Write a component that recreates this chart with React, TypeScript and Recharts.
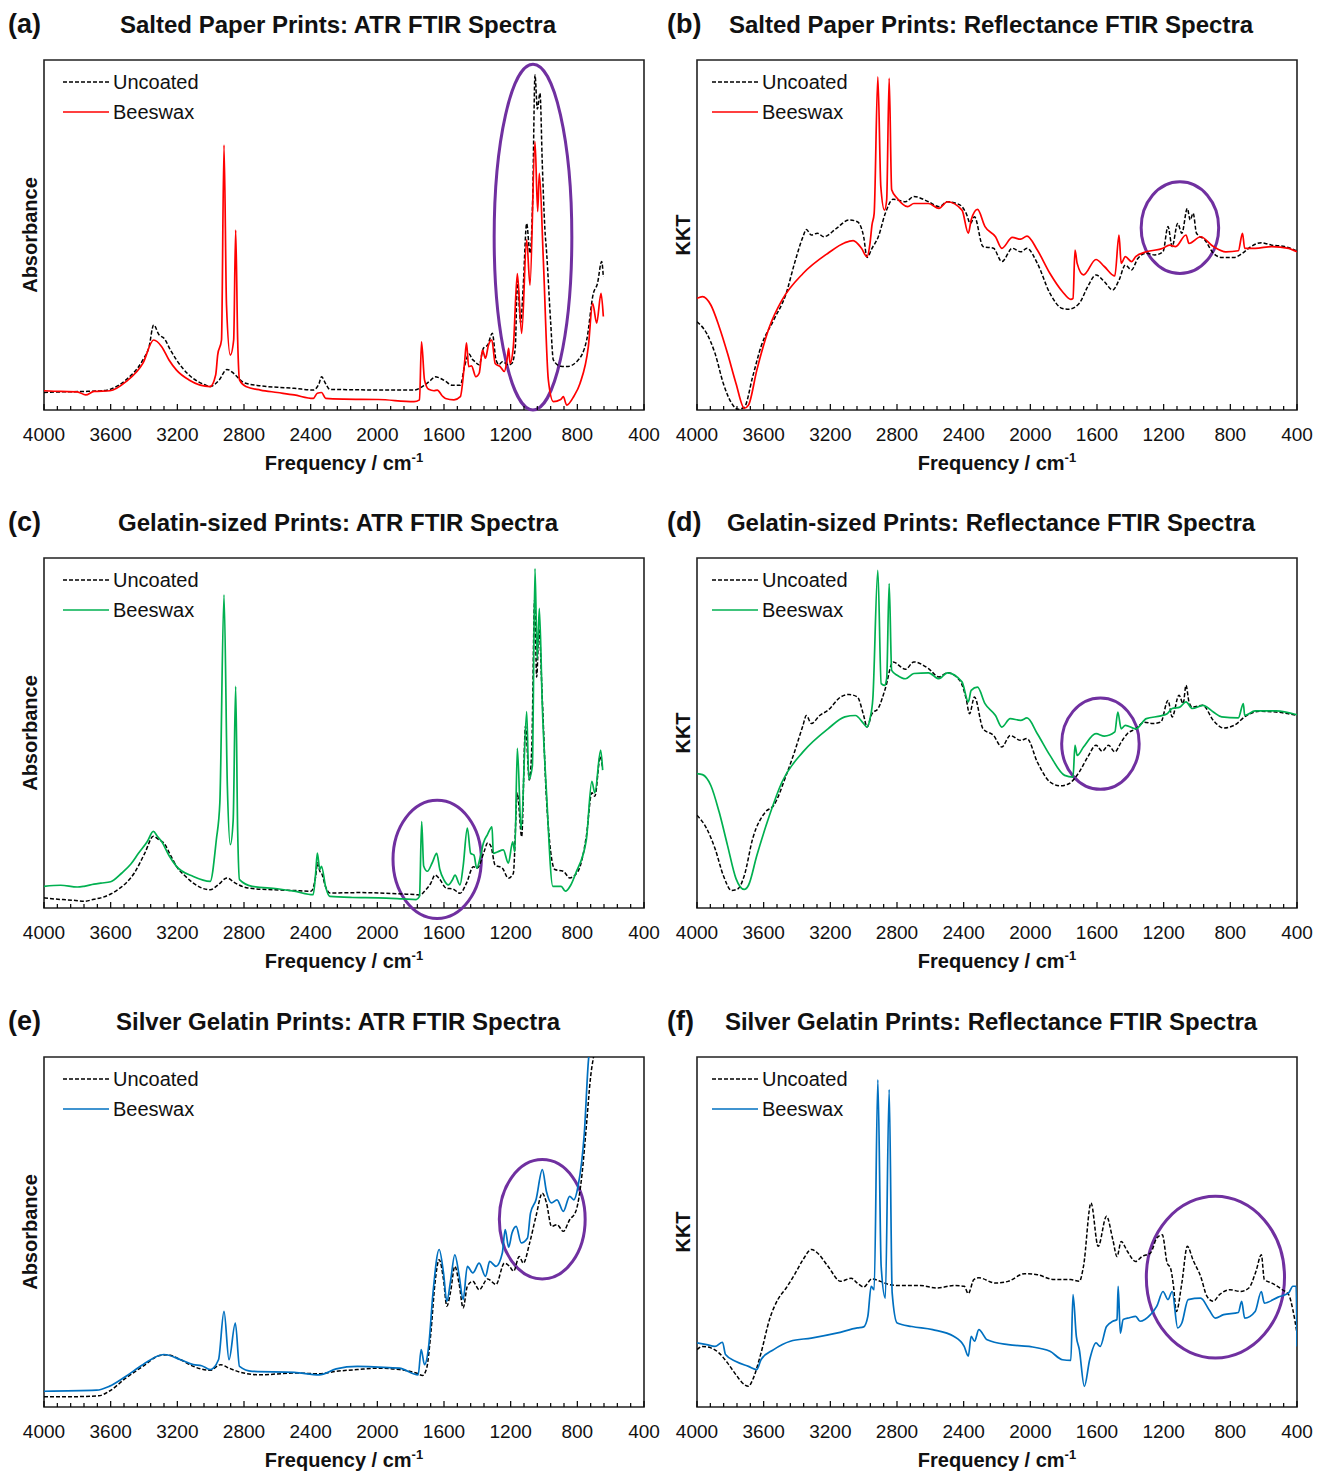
import { LineChart, Line, XAxis, YAxis, ReferenceArea, Legend, Label } from "recharts";

type Pt = [number, number];

const FONT = "Arial, 'Liberation Sans', Helvetica, sans-serif";
const RED = "#FF0000";
const GREEN = "#00B050";
const BLUE = "#0070C0";
const PURPLE = "#7030A0";

const MAJOR_TICKS = [4000, 3600, 3200, 2800, 2400, 2000, 1600, 1200, 800, 400];
const X_TICKS: number[] = [];
for (let v = 4000; v >= 400; v -= 80) X_TICKS.push(v);

// (a) salted paper, ATR
const saltedAtrUncoated: Pt[] = [
  [4000, 5], [3880, 5.2], [3760, 5.3], [3650, 5.5], [3604, 5.9], [3508, 8.6], [3407, 14.3], [3370, 18],
  [3342, 24.3], [3310, 21.5], [3280, 20.5], [3240, 17], [3205, 14.3], [3130, 10], [3029, 7.1], [3003, 6.7],
  [2950, 8.5], [2903, 11.6], [2870, 10.8], [2852, 10], [2800, 7.8], [2701, 6.9], [2600, 6.5], [2499, 6.2],
  [2385, 5.7], [2350, 7.5], [2335, 9.5], [2310, 7.5], [2285, 5.9], [2150, 5.8], [1994, 5.7], [1780, 5.7],
  [1717, 7.1], [1680, 8.5], [1654, 9.5], [1620, 9], [1591, 8.2], [1553, 7.1], [1502, 7.1], [1477, 12.4],
  [1450, 16], [1430, 14.5], [1414, 13.8], [1389, 12.9], [1364, 17.6], [1338, 18.6], [1310, 21.9], [1288, 14.3],
  [1270, 13], [1250, 13.8], [1212, 12.9], [1193, 13.3], [1172, 18], [1160, 37], [1140, 25], [1125, 35],
  [1104, 53.3], [1084, 44.8], [1068, 60], [1054, 95.7], [1040, 86], [1024, 90.5], [1010, 70], [995, 52],
  [984, 44.8], [960, 25], [944, 14.3], [900, 12.5], [864, 12.4], [800, 14], [744, 20], [704, 33.3],
  [680, 36], [654, 42.4], [644, 38],
];
const saltedAtrBeeswax: Pt[] = [
  [4000, 5.5], [3900, 5.3], [3800, 5.2], [3750, 4.3], [3700, 5.3], [3604, 5.5], [3508, 8.1], [3407, 13.3],
  [3342, 20], [3294, 18.1], [3250, 14.3], [3205, 11.4], [3130, 8.6], [3003, 6.7], [2970, 10], [2958, 15.7],
  [2935, 20], [2920, 75.7], [2905, 30], [2882, 15.7], [2862, 20], [2850, 51.4], [2838, 20], [2827, 8.6],
  [2789, 6.7], [2701, 5.7], [2600, 5], [2499, 4.3], [2385, 3.3], [2360, 4.8], [2335, 5], [2310, 3.3],
  [2200, 3.1], [1994, 3], [1780, 2.4], [1747, 2.9], [1735, 19.5], [1717, 8.6], [1692, 5.9], [1660, 5.5],
  [1640, 5.7], [1610, 4], [1591, 3.3], [1540, 2.9], [1502, 3.8], [1477, 13.3], [1465, 19.2], [1452, 12.4],
  [1435, 12.6], [1409, 9.5], [1389, 10.5], [1369, 17.1], [1351, 14.8], [1333, 18.6], [1313, 20], [1293, 13.3],
  [1263, 12.4], [1238, 11], [1220, 15], [1212, 17.6], [1204, 13.3], [1184, 18.1], [1160, 39], [1134, 21.9],
  [1104, 48.6], [1084, 35.7], [1054, 76.7], [1038, 56.7], [1028, 67.6], [1004, 42.9], [974, 8.6], [944, 2.4],
  [900, 3], [884, 3.8], [864, 1.4], [820, 4], [784, 7.6], [734, 18.1], [708, 30.5], [684, 24.8],
  [658, 33.3], [644, 26.7],
];

// (b) salted paper, reflectance
const saltedReflUncoated: Pt[] = [
  [4000, 25.2], [3942, 21.9], [3892, 16.2], [3842, 7.6], [3792, 1.9], [3754, 0.2], [3716, 0.8], [3666, 9.5],
  [3616, 18.1], [3540, 25.7], [3465, 33.3], [3415, 41.9], [3364, 49.5], [3344, 51.6], [3314, 50], [3277, 50.5],
  [3239, 49.5], [3163, 51.9], [3088, 54.3], [3038, 53.8], [3000, 49.5], [2980, 43.6], [2950, 46.2], [2912, 49.5],
  [2870, 56.2], [2824, 60.2], [2749, 59.5], [2699, 61], [2611, 59.5], [2548, 58.1], [2498, 59.5], [2423, 58.6],
  [2385, 56.2], [2360, 53.3], [2335, 55.2], [2284, 46.7], [2221, 46.2], [2171, 42.4], [2108, 46.2], [2058, 45.2],
  [2020, 46.2], [1958, 41.9], [1882, 33.3], [1807, 29], [1769, 28.8], [1706, 30.5], [1656, 35.2], [1606, 38.6],
  [1556, 36.7], [1506, 34.3], [1468, 37.1], [1430, 41.4], [1393, 40], [1355, 43.3], [1304, 44.8], [1254, 44.3],
  [1204, 45.2], [1174, 52.4], [1149, 46.7], [1116, 53.3], [1091, 50.5], [1058, 57.6], [1041, 54.3], [1023, 56.2],
  [1003, 50.5], [953, 48.6], [902, 44.8], [852, 43.6], [777, 43.6], [727, 44.8], [676, 46.7], [614, 47.8],
  [551, 47.1], [475, 46.7], [400, 45.5],
];
const saltedReflBeeswax: Pt[] = [
  [4000, 31.9], [3967, 32.4], [3917, 30], [3867, 23.8], [3817, 16.2], [3766, 7.6], [3716, 0.5], [3691, 1.4],
  [3641, 11.4], [3565, 23.8], [3490, 31.4], [3364, 39], [3214, 44.8], [3113, 47.8], [3063, 48.4], [3013, 46.2],
  [2980, 43.8], [2962, 47.6], [2950, 52.9], [2937, 56.2], [2915, 95.2], [2897, 63.8], [2875, 57.1], [2862, 60],
  [2847, 94.8], [2832, 62.9], [2799, 60.5], [2736, 58.1], [2699, 59], [2611, 59], [2548, 57.6], [2498, 59.5],
  [2410, 57.1], [2372, 50.5], [2355, 54.3], [2317, 57.3], [2272, 52.4], [2209, 49.5], [2171, 46.2], [2108, 49.3],
  [2058, 48.8], [2020, 49.7], [1958, 45.7], [1882, 39], [1807, 33.8], [1757, 31.6], [1744, 31.9], [1732, 45.7],
  [1719, 41.9], [1681, 38.6], [1606, 43], [1556, 41], [1493, 38.3], [1468, 50], [1455, 41.9], [1430, 43.8],
  [1393, 42.4], [1368, 43.8], [1304, 45.2], [1204, 46.2], [1166, 47.1], [1128, 46.7], [1066, 50], [1048, 47.6],
  [978, 49.5], [902, 46.7], [827, 45.2], [752, 45.5], [727, 50.5], [714, 46.2], [651, 46.2], [551, 46.7],
  [450, 46.2], [400, 45.2],
];

// (c) gelatin-sized, ATR
const gelatinAtrUncoated: Pt[] = [
  [4000, 2.9], [3940, 2.6], [3886, 2.4], [3820, 2.2], [3760, 1.9], [3700, 2.5], [3659, 2.9], [3600, 4],
  [3559, 5.2], [3500, 7.5], [3458, 10], [3395, 15.7], [3344, 20.5], [3310, 19.5], [3281, 18.6], [3240, 15],
  [3205, 11.9], [3150, 9], [3104, 7.1], [3003, 5.2], [2953, 6.7], [2903, 8.6], [2852, 7.1], [2776, 5.7],
  [2625, 5.2], [2500, 5], [2398, 4.8], [2370, 9], [2360, 12.9], [2345, 10.5], [2335, 10], [2310, 6],
  [2285, 4.3], [2100, 4.4], [1994, 4.3], [1850, 4], [1767, 3.8], [1744, 3.7], [1717, 4.8], [1680, 7],
  [1654, 9.4], [1630, 8.5], [1584, 5.6], [1550, 5.5], [1504, 4.2], [1465, 7.1], [1424, 11.8], [1400, 11.4],
  [1360, 16], [1338, 18.6], [1318, 17.6], [1294, 12.3], [1250, 11.4], [1214, 8.5], [1184, 9.9], [1160, 32.8],
  [1134, 20.4], [1111, 51.9], [1088, 36.6], [1073, 46.2], [1056, 88.1], [1044, 66], [1030, 79.5], [1010, 59.5],
  [985, 31], [935, 11], [884, 10.5], [846, 8.6], [796, 10.5], [746, 20.5], [713, 32.9], [695, 31.9],
  [662, 43.3], [650, 40.5],
];
const gelatinAtrBeeswax: Pt[] = [
  [4000, 6.2], [3900, 6.5], [3800, 6], [3760, 6.2], [3700, 6.8], [3659, 7.1], [3600, 7.5], [3533, 10],
  [3480, 12.5], [3432, 15.7], [3380, 19], [3344, 21.9], [3320, 20.5], [3294, 19], [3250, 15], [3205, 11.9],
  [3104, 9], [3003, 7.6], [2966, 19.5], [2945, 30], [2920, 89.5], [2900, 35], [2882, 18.1], [2865, 25],
  [2850, 63.3], [2838, 22], [2827, 8.1], [2751, 6.2], [2600, 5.5], [2499, 4.8], [2385, 3.8], [2370, 10],
  [2360, 15.7], [2345, 11], [2335, 11.9], [2310, 6], [2285, 3.3], [2150, 3], [1994, 2.9], [1850, 2.6],
  [1767, 2.4], [1747, 3.3], [1734, 24.7], [1722, 12], [1700, 10.5], [1670, 13], [1644, 15.6], [1625, 11],
  [1600, 8], [1574, 6.6], [1550, 8], [1534, 9.4], [1504, 6.6], [1485, 12], [1460, 22.8], [1440, 15.6],
  [1420, 15.1], [1404, 11.4], [1380, 15], [1364, 18.5], [1340, 20.9], [1312, 23.2], [1304, 15.6], [1280, 16],
  [1244, 16.6], [1214, 12.8], [1188, 18.9], [1175, 16], [1160, 45.6], [1137, 22.4], [1104, 56.1], [1091, 36.7],
  [1070, 40.5], [1054, 97], [1041, 71], [1028, 85.6], [1010, 57.6], [985, 32.9], [947, 6.2], [897, 6.2],
  [872, 4.8], [840, 6.5], [809, 10], [746, 19.5], [713, 36.2], [695, 32.9], [660, 45.1], [648, 39.4],
];

// (d) gelatin-sized, reflectance
const gelatinReflUncoated: Pt[] = [
  [4000, 26.5], [3942, 22.7], [3892, 17], [3842, 9.3], [3792, 5], [3754, 5.5], [3716, 9.3], [3666, 19.8],
  [3590, 27.4], [3540, 29.3], [3465, 37.9], [3415, 44.6], [3364, 52.2], [3344, 55], [3314, 52.7], [3264, 55],
  [3214, 56.5], [3138, 60.3], [3088, 61], [3038, 60.3], [3000, 55], [2980, 51.7], [2950, 55.5], [2912, 57.1],
  [2870, 62.7], [2824, 70.3], [2749, 68.2], [2699, 70.3], [2611, 68.4], [2548, 66], [2498, 67.2], [2423, 65],
  [2385, 59.8], [2365, 55.5], [2335, 60.3], [2284, 51.2], [2221, 49.3], [2171, 46], [2121, 49.3], [2058, 47.9],
  [2020, 48.4], [1958, 41.7], [1882, 36], [1820, 34.9], [1769, 35.5], [1706, 38.9], [1656, 43.1], [1606, 46.5],
  [1569, 44.8], [1531, 46.5], [1493, 44.6], [1455, 47.4], [1418, 49.8], [1368, 51.2], [1317, 53.1], [1267, 52.7],
  [1217, 53.1], [1174, 59.3], [1149, 54.6], [1108, 60.8], [1083, 58.4], [1066, 63.6], [1048, 58.9], [1028, 57.4],
  [965, 57.9], [902, 53.6], [840, 51.4], [777, 52.2], [702, 55], [626, 56.2], [526, 56], [400, 55],
];
const gelatinReflBeeswax: Pt[] = [
  [4000, 38.4], [3967, 38.1], [3917, 35], [3867, 27.4], [3817, 17.9], [3766, 8.4], [3716, 5.3], [3691, 6.5],
  [3641, 15], [3565, 26.5], [3490, 36], [3364, 44.6], [3214, 51.2], [3113, 54.6], [3050, 55], [3000, 52.7],
  [2980, 51.7], [2962, 54.1], [2945, 59.8], [2915, 96.5], [2895, 64.1], [2875, 63.6], [2862, 65.5], [2847, 92.7],
  [2832, 67.9], [2799, 66.5], [2749, 65.5], [2699, 67], [2611, 67.2], [2548, 65.5], [2498, 67.2], [2410, 64.6],
  [2372, 58.9], [2355, 62.2], [2317, 63.1], [2272, 58.4], [2209, 55], [2171, 51.7], [2121, 54.1], [2058, 53.6],
  [2020, 54.3], [1958, 49.8], [1882, 43.6], [1794, 37.9], [1744, 37.4], [1732, 46.5], [1719, 43.6], [1681, 46],
  [1606, 49.8], [1556, 49.1], [1493, 50.3], [1475, 56], [1455, 51.2], [1430, 52.2], [1368, 51.2], [1304, 54.1],
  [1217, 54.9], [1179, 55.5], [1149, 57], [1103, 57.4], [1066, 58.9], [1028, 57], [965, 57.9], [902, 56],
  [852, 54.6], [752, 54.3], [722, 58.4], [714, 55], [651, 56.3], [526, 56.3], [400, 55.2],
];

// (e) silver gelatin, ATR
const silverAtrUncoated: Pt[] = [
  [4000, 2.9], [3886, 2.9], [3672, 3.2], [3609, 4.5], [3508, 8.3], [3407, 11.6], [3306, 14.7], [3256, 14.9],
  [3180, 13.5], [3104, 11.6], [3003, 10.5], [2940, 12.1], [2890, 11.1], [2802, 9.7], [2701, 9.2], [2499, 9.7],
  [2348, 9.5], [2247, 10.2], [2120, 10.7], [1994, 11.1], [1868, 10.7], [1767, 9.7], [1729, 9], [1704, 11.1],
  [1679, 21.1], [1654, 35.4], [1629, 42.1], [1603, 36.4], [1583, 28.8], [1561, 32.8], [1535, 40.2], [1510, 35.4],
  [1485, 28.3], [1460, 34.5], [1427, 35.9], [1389, 33.5], [1338, 36.6], [1288, 35], [1238, 41.1], [1207, 40.2],
  [1182, 38.8], [1149, 43], [1124, 41.1], [1086, 46.9], [1048, 54.5], [1010, 61.1], [985, 58.3], [955, 51.6],
  [922, 52.1], [884, 50.2], [846, 53.5], [809, 55.9], [771, 66.9], [746, 80.2], [720, 94.5], [703, 100],
  [682, 105],
];
const silverAtrBeeswax: Pt[] = [
  [4000, 4.5], [3685, 4.8], [3609, 5.9], [3508, 8.8], [3407, 12.1], [3281, 15], [3180, 13.5], [3104, 12.1],
  [3054, 11.8], [3003, 10.7], [2953, 13.5], [2920, 27.3], [2890, 13.5], [2852, 24], [2827, 11.6], [2751, 10.2],
  [2499, 9.9], [2348, 9.2], [2247, 10.9], [2120, 11.6], [1994, 11.4], [1868, 11.1], [1755, 9.2], [1737, 16.4],
  [1717, 12.1], [1692, 17.3], [1666, 32.6], [1629, 45], [1603, 38.3], [1583, 30.2], [1561, 35.9], [1535, 43.5],
  [1510, 37.8], [1485, 30.7], [1460, 40.2], [1427, 38.3], [1389, 41.1], [1351, 37.3], [1326, 41.6], [1288, 40.2],
  [1250, 44], [1233, 50.7], [1212, 45.7], [1192, 49.7], [1167, 51.6], [1137, 46.9], [1099, 48.3], [1081, 55.4],
  [1048, 59.2], [1010, 67.8], [985, 61.5], [955, 58.3], [922, 59.2], [884, 55.9], [846, 60.2], [821, 59.2],
  [796, 63], [758, 78.3], [733, 99.2], [720, 104],
];

// (f) silver gelatin, reflectance
const silverReflUncoated: Pt[] = [
  [4000, 16.4], [3967, 17.3], [3917, 16.9], [3867, 15.4], [3817, 12.6], [3766, 9.2], [3716, 6.4], [3691, 5.9],
  [3666, 7.8], [3616, 15.4], [3565, 25], [3515, 30.7], [3465, 34], [3415, 37.8], [3364, 42.1], [3314, 45],
  [3277, 44], [3214, 40.2], [3138, 35.9], [3075, 36.8], [3038, 35.4], [3000, 34.3], [2950, 36.6], [2900, 35.9],
  [2849, 35], [2787, 34.7], [2661, 34.7], [2560, 34], [2460, 34.7], [2397, 34.5], [2372, 32.4], [2339, 36.4],
  [2309, 36.9], [2209, 35.4], [2133, 35.9], [2033, 38.1], [1958, 37.8], [1857, 36.4], [1757, 36.4], [1706, 35.9],
  [1681, 40.2], [1636, 58.3], [1593, 45.9], [1543, 54.5], [1505, 47.8], [1480, 43], [1455, 47.3], [1418, 44.5],
  [1368, 41.6], [1330, 43], [1279, 44], [1241, 48.3], [1208, 49.2], [1179, 41.1], [1159, 39.7], [1141, 34.5],
  [1124, 27.3], [1091, 35.4], [1058, 45.9], [1023, 41.9], [978, 37.3], [940, 31.6], [902, 30.2], [865, 32.1],
  [802, 33.5], [739, 33], [689, 34], [646, 38.8], [614, 43.5], [596, 36.4], [551, 35.4], [488, 33.5],
  [450, 32.1], [425, 27.8], [400, 21.1],
];
const silverReflBeeswax: Pt[] = [
  [4000, 18.3], [3942, 17.8], [3892, 17.3], [3847, 18.5], [3829, 15], [3766, 13], [3691, 11.6], [3641, 10.7],
  [3616, 13.5], [3540, 16.4], [3440, 18.8], [3314, 19.7], [3163, 21.1], [3038, 22.6], [3000, 22.9], [2975, 25.9],
  [2955, 34.5], [2937, 33.5], [2915, 93.5], [2895, 40.2], [2870, 31.1], [2847, 90.7], [2829, 32.6], [2799, 24],
  [2711, 23], [2586, 22.1], [2460, 20.2], [2397, 17.3], [2372, 14.5], [2355, 20.2], [2335, 18.8], [2309, 22.1],
  [2259, 19.2], [2133, 17.8], [2008, 17.3], [1882, 15.9], [1807, 13.5], [1757, 13.3], [1744, 32.1], [1724, 20.2],
  [1706, 16.4], [1676, 5.9], [1644, 13.5], [1606, 18.3], [1581, 17.3], [1543, 23], [1505, 24.5], [1480, 25],
  [1473, 34.5], [1460, 21.1], [1443, 25], [1405, 25.5], [1368, 25.9], [1342, 24.5], [1279, 26.4], [1241, 28.8],
  [1204, 33], [1174, 30.7], [1149, 33], [1116, 22.6], [1091, 24], [1053, 30.7], [978, 31.1], [928, 27.8],
  [890, 25.4], [840, 26.4], [752, 27], [732, 30.2], [714, 25.4], [651, 27.3], [614, 33], [596, 29.7],
  [513, 31.4], [450, 32.6], [425, 34.5], [405, 34.5], [400, 17.3],
];

// highlighted regions: [x1, x2, y1, y2]
const saltedAtrCircle = [833, 1299, 0, 98.8];
const saltedReflCircle = [870, 1335, 39, 65.2];
const gelatinAtrCircle = [1376, 1906, -3, 30.8];
const gelatinReflCircle = [1347, 1812, 33.9, 60];
const silverAtrCircle = [753, 1268, 36.6, 70.7];
const silverReflCircle = [475, 1304, 14, 60.2];

const PANELS = [
  { letter: "(a)", title: "Salted Paper Prints: ATR FTIR Spectra", yLabel: "Absorbance", color: RED, uncoated: saltedAtrUncoated, beeswax: saltedAtrBeeswax, circle: saltedAtrCircle, col: 0, row: 0 },
  { letter: "(b)", title: "Salted Paper Prints: Reflectance FTIR Spectra", yLabel: "KKT", color: RED, uncoated: saltedReflUncoated, beeswax: saltedReflBeeswax, circle: saltedReflCircle, col: 1, row: 0 },
  { letter: "(c)", title: "Gelatin-sized Prints: ATR FTIR Spectra", yLabel: "Absorbance", color: GREEN, uncoated: gelatinAtrUncoated, beeswax: gelatinAtrBeeswax, circle: gelatinAtrCircle, col: 0, row: 1 },
  { letter: "(d)", title: "Gelatin-sized Prints: Reflectance FTIR Spectra", yLabel: "KKT", color: GREEN, uncoated: gelatinReflUncoated, beeswax: gelatinReflBeeswax, circle: gelatinReflCircle, col: 1, row: 1 },
  { letter: "(e)", title: "Silver Gelatin Prints: ATR FTIR Spectra", yLabel: "Absorbance", color: BLUE, uncoated: silverAtrUncoated, beeswax: silverAtrBeeswax, circle: silverAtrCircle, col: 0, row: 2 },
  { letter: "(f)", title: "Silver Gelatin Prints: Reflectance FTIR Spectra", yLabel: "KKT", color: BLUE, uncoated: silverReflUncoated, beeswax: silverReflBeeswax, circle: silverReflCircle, col: 1, row: 2 },
];

const toXY = (pts: Pt[]) => pts.map(([x, y]) => ({ x, y }));

const COL_LEFT = [0, 653];
const ROW_TOP = [0, 498, 997];
const TITLE_X = [338, 991];
const LETTER_X = [8, 667];

function WaveTick(props: any) {
  const { x, y, payload } = props;
  const major = MAJOR_TICKS.includes(payload.value);
  return (
    <g>
      <line x1={x} x2={x} y1={y} y2={y - (major ? 6 : 4)} stroke="#000" strokeWidth={1.2} />
      {major && (
        <text x={x} y={y + 31} textAnchor="middle" fontSize={19} fontFamily={FONT} fill="#111">
          {payload.value}
        </text>
      )}
    </g>
  );
}

function FreqTitle(props: any) {
  const vb = props.viewBox;
  return (
    <text x={vb.x + vb.width / 2} y={vb.y + 60} textAnchor="middle" fontSize={20} fontWeight="bold" fontFamily={FONT} fill="#111">
      Frequency / cm<tspan dy={-8} fontSize={13}>-1</tspan>
    </text>
  );
}

function YTitle({ viewBox, text }: any) {
  const cx = viewBox.x - 14;
  const cy = viewBox.y + viewBox.height / 2;
  return (
    <text x={cx} y={cy} transform={`rotate(-90 ${cx} ${cy})`} textAnchor="middle" dominantBaseline="central"
      fontSize={20} fontWeight="bold" fontFamily={FONT} fill="#111">
      {text}
    </text>
  );
}

function Ellipse(props: any) {
  const { x, y, width, height } = props;
  return (
    <ellipse cx={x + width / 2} cy={y + height / 2} rx={Math.abs(width) / 2} ry={Math.abs(height) / 2}
      fill="none" stroke={PURPLE} strokeWidth={3} />
  );
}

function LegendBox({ color }: { color: string }) {
  const row = (dash: string | undefined, c: string, name: string) => (
    <div style={{ display: "flex", alignItems: "center", height: 30 }}>
      <svg width={46} height={30} style={{ display: "block" }}>
        <line x1={0} x2={46} y1={15} y2={15} stroke={c} strokeWidth={1.6} strokeDasharray={dash} />
      </svg>
      <span style={{ marginLeft: 4, fontSize: 20, fontFamily: FONT, color: "#111", lineHeight: "30px" }}>{name}</span>
    </div>
  );
  return (
    <div>
      {row("4 2", "#000", "Uncoated")}
      {row(undefined, color, "Beeswax")}
    </div>
  );
}

function Panel({ p }: { p: (typeof PANELS)[number] }) {
  const [cx1, cx2, cy1, cy2] = p.circle;
  return (
    <div style={{ position: "absolute", left: COL_LEFT[p.col], top: ROW_TOP[p.row], width: 660, height: 480 }}>
      <LineChart width={660} height={480} margin={{ top: 60, right: 16, bottom: 40, left: 44 }}>
        <XAxis type="number" dataKey="x" domain={[400, 4000]} reversed ticks={X_TICKS} interval={0}
          tickLine={false} axisLine={false} tickSize={0} tickMargin={0} height={30}
          tick={(t: any) => <WaveTick {...t} />} allowDataOverflow>
          <Label content={(lp: any) => <FreqTitle {...lp} />} />
        </XAxis>
        <YAxis type="number" domain={[0, 100]} hide allowDataOverflow />
        <ReferenceArea x1={400} x2={4000} y1={0} y2={100} fill="none" fillOpacity={0} stroke="#222" strokeWidth={1.6}
          ifOverflow="visible">
          <Label content={(lp: any) => <YTitle {...lp} text={p.yLabel} />} />
        </ReferenceArea>
        <Line data={toXY(p.uncoated)} dataKey="y" name="Uncoated" type="monotone" stroke="#000" strokeWidth={1.5}
          strokeDasharray="4 2" dot={false} activeDot={false} isAnimationActive={false} />
        <Line data={toXY(p.beeswax)} dataKey="y" name="Beeswax" type="monotone" stroke={p.color} strokeWidth={1.7}
          dot={false} activeDot={false} isAnimationActive={false} />
        <ReferenceArea x1={cx1} x2={cx2} y1={cy1} y2={cy2} ifOverflow="visible" shape={(sp: any) => <Ellipse {...sp} />} />
        <Legend layout="horizontal" verticalAlign="middle" align="center"
          wrapperStyle={{ left: p.col === 0 ? 63 : 59, top: 67, width: 200, height: 60 }}
          content={() => <LegendBox color={p.color} />} />
      </LineChart>
    </div>
  );
}

export default function App() {
  return (
    <div style={{ position: "absolute", left: 0, top: 0, width: 1318, height: 1471, background: "#fff", fontFamily: FONT }}>
      {PANELS.map((p, i) => (
        <div key={"t" + i}>
          <div style={{ position: "absolute", left: LETTER_X[p.col], top: ROW_TOP[p.row] + 11, fontSize: 27, fontWeight: "bold", lineHeight: 1, color: "#111" }}>
            {p.letter}
          </div>
          <div style={{ position: "absolute", left: TITLE_X[p.col], top: ROW_TOP[p.row] + 13, transform: "translateX(-50%)", fontSize: 24, fontWeight: "bold", lineHeight: 1, whiteSpace: "nowrap", color: "#111" }}>
            {p.title}
          </div>
        </div>
      ))}
      {PANELS.map((p, i) => (
        <Panel key={i} p={p} />
      ))}
    </div>
  );
}
